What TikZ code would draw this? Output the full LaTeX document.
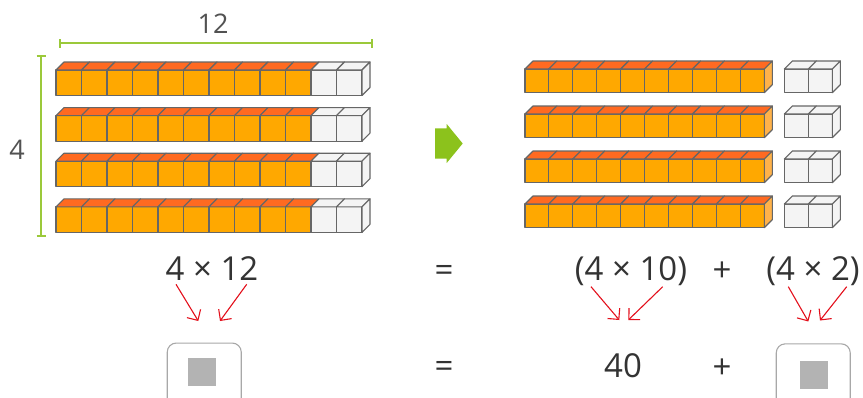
\documentclass[tikz,border=0pt]{standalone}
\usepackage{fontspec}
\setmainfont{Open Sans}
\usetikzlibrary{arrows.meta}
\definecolor{rodorange}{HTML}{FFA800}
\definecolor{rodtop}{HTML}{FF6A21}
\definecolor{rodside}{HTML}{FFB24A}
\definecolor{unitwhite}{HTML}{F4F4F4}
\definecolor{edgegray}{HTML}{666666}
\definecolor{dimgreen}{HTML}{9BC93A}
\definecolor{arrowgreen}{HTML}{8CC21C}
\definecolor{txt}{HTML}{333333}
\definecolor{hintred}{HTML}{E3101C}
\definecolor{boxgray}{HTML}{A8A8A8}
\definecolor{slotgray}{HTML}{B3B3B3}
\tikzset{
  cubeedge/.style={draw=edgegray, line width=1.1pt, line join=round},
  dimline/.style={draw=dimgreen, line width=2pt},
  bigtext/.style={text=txt, font=\fontsize{33}{36}\selectfont, anchor=base, inner sep=0pt},
  dimtext/.style={text=txt!85, font=\fontsize{27}{30}\selectfont, inner sep=0pt},
  hint/.style={draw=hintred, line width=1.1pt, -{Straight Barb[length=8pt,width=16pt,line width=1.1pt]}},
  answerbox/.style={draw=boxgray, line width=1.1pt, rounded corners=9pt, fill=white},
  slot/.style={fill=slotgray}
}
% one cube: x, y (top-left of front face), width, height, front colour, top colour
\newcommand\onecube[6]{%
  \filldraw[cubeedge, fill=#5] (#1,#2) rectangle ++(#3,#4);
  \filldraw[cubeedge, fill=#6] (#1,#2) -- ++(8,-8) -- ++(#3,0) -- ++(-8,8) -- cycle;
}
% right side face of a rod: x of right edge, y, height, colour
\newcommand\rodside[4]{%
  \filldraw[cubeedge, fill=#4] (#1,#2) -- ++(8,-8) -- ++(0,#3) -- ++(-8,8) -- cycle;
}
\begin{document}
\begin{tikzpicture}[x=1pt,y=-1pt]
\useasboundingbox (0,0) rectangle (863,397);
\clip (0,0) rectangle (863,397);

% dimension lines
\draw[dimline] (59.5,43.3) -- (371.5,43.3);
\draw[dimline] (59.5,39) -- (59.5,47.6);
\draw[dimline] (371.5,39) -- (371.5,47.6);
\node[dimtext] (lenlabel) at (213,23.5) {12};
\draw[dimline] (41,55.5) -- (41,236);
\draw[dimline] (36.5,55.5) -- (45.5,55.5);
\draw[dimline] (36.5,236) -- (45.5,236);
\node[dimtext] (rowlabel) at (17,149.5) {4};

% left: four rods of twelve cubes
\foreach \r in {0,1,2,3}{
  \pgfmathsetmacro\yy{70+45.6*\r}
  \foreach \c in {0,...,9}{
    \onecube{56+25.5*\c}{\yy}{25.5}{25.5}{rodorange}{rodtop}
  }
  \foreach \c in {10,11}{
    \onecube{56+25.5*\c}{\yy}{25.5}{25.5}{unitwhite}{unitwhite}
  }
  \rodside{362}{\yy}{25.5}{unitwhite}
}

% arrow between the two arrangements
\fill[arrowgreen] (435,128.3) -- (446.7,128.3) -- (446.7,124) -- (462.7,143.5)
  -- (446.7,163) -- (446.7,158.6) -- (435,158.6) -- cycle;

% right: rods of ten split from pairs of units
\foreach \r in {0,1,2,3}{
  \pgfmathsetmacro\yy{69+45*\r}
  \foreach \c in {0,...,9}{
    \onecube{525+23.93*\c}{\yy}{23.93}{23.7}{rodorange}{rodtop}
  }
  \rodside{764.3}{\yy}{23.7}{rodside}
  \foreach \c in {0,1}{
    \onecube{784.3+24*\c}{\yy}{24}{23.7}{unitwhite}{unitwhite}
  }
  \rodside{832.3}{\yy}{23.7}{unitwhite}
}

% equations
\node[bigtext] (prod) at (212,280.5) {4 × 12};
\node[bigtext] (eqa) at (444,281) {=};
\node[bigtext] (tens) at (631,280) {(4 × 10)};
\node[bigtext] (plusa) at (722,281) {+};
\node[bigtext] (ones) at (813,280) {(4 × 2)};

\node[bigtext] (forty) at (623,377) {40};
\node[bigtext] (eqb) at (444,377.5) {=};
\node[bigtext] (plusb) at (722,378) {+};

% answer boxes
\node[answerbox, minimum width=74pt, minimum height=64pt, anchor=north west] (boxa) at (166.7,342.5) {};
\fill[slot] (188.3,357.7) rectangle (216,386);
\node[answerbox, minimum width=74pt, minimum height=64pt, anchor=north west] (boxb) at (775.7,343.3) {};
\fill[slot] (800,361) rectangle (828.3,389);

% red hint arrows
\coordinate (a1s) at (176,284.3);  \coordinate (a1e) at (198.3,321);
\coordinate (a2s) at (246.7,284.3); \coordinate (a2e) at (220,321);
\coordinate (b1s) at (591,286.7);  \coordinate (b1e) at (619.3,320);
\coordinate (b2s) at (662.7,286.7); \coordinate (b2e) at (628.3,320);
\coordinate (c1s) at (788.3,286.7); \coordinate (c1e) at (808.3,321.5);
\coordinate (c2s) at (846.7,286.7); \coordinate (c2e) at (820,320.5);
\draw[hint] (a1s) -- (a1e);
\draw[hint] (a2s) -- (a2e);
\draw[hint] (b1s) -- (b1e);
\draw[hint] (b2s) -- (b2e);
\draw[hint] (c1s) -- (c1e);
\draw[hint] (c2s) -- (c2e);
\end{tikzpicture}
\end{document}
